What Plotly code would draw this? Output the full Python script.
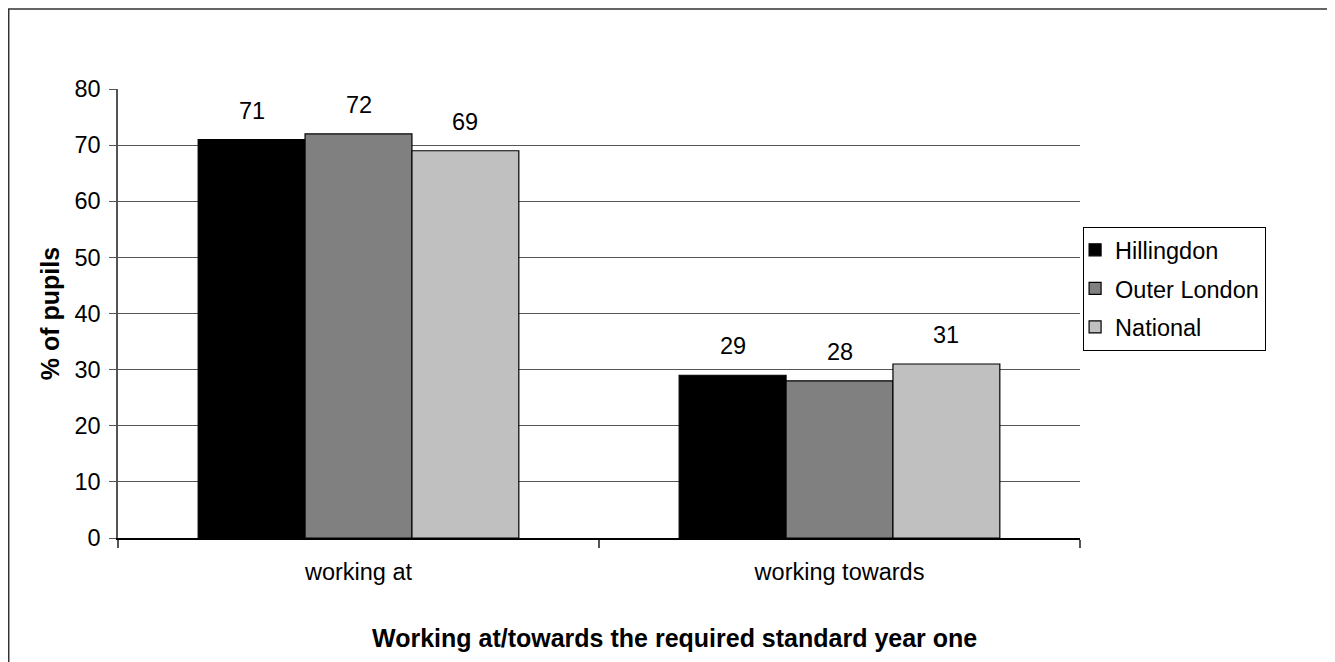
import plotly.graph_objects as go

categories = ["working at", "working towards"]
series_names = ["Hillingdon", "Outer London", "National"]
hillingdon = [71, 29]
outer_london = [72, 28]
national = [69, 31]
series_values = [hillingdon, outer_london, national]
series_colors = ["#000000", "#808080", "#C0C0C0"]
y_ticks = [0, 10, 20, 30, 40, 50, 60, 70, 80]
y_title = "% of pupils"
x_title = "Working at/towards the required standard year one"

FONT = "Liberation Sans, Arial, sans-serif"
REG = 23.5
BOLD = 25
BARGAP = 1 / 3

fig = go.Figure()
for name, vals, col in zip(series_names, series_values, series_colors):
    fig.add_trace(go.Bar(
        x=categories, y=vals, name=name, legendgroup=name,
        marker=dict(color=col, line=dict(color="#000000", width=1.2)),
    ))

# data labels above bars
nser = len(series_names)
w = (1 - BARGAP) / nser
for j, vals in enumerate(series_values):
    for i, v in enumerate(vals):
        fig.add_annotation(
            x=i + (j - (nser - 1) / 2) * w, y=v, text=str(v),
            showarrow=False, yanchor="bottom", yshift=14,
            font=dict(family=FONT, size=REG, color="#000000"),
        )

# x-axis title (centred on the chart area)
fig.add_annotation(
    x=0.579, y=-0.222, xref="paper", yref="paper", text="<b>%s</b>" % x_title,
    showarrow=False, xanchor="center", yanchor="middle",
    font=dict(family=FONT, size=BOLD, color="#000000"),
)

# outer chart frame
fig.add_shape(type="rect", xref="paper", yref="paper",
              x0=-0.1136, x1=1.30, y0=-0.35, y1=1.178,
              line=dict(color="#333333", width=1.5), layer="below")

fig.update_layout(
    width=1335, height=662,
    margin=dict(l=110, r=263, t=81, b=132),
    paper_bgcolor="#FFFFFF", plot_bgcolor="#FFFFFF",
    barmode="group", bargap=BARGAP, bargroupgap=0,
    font=dict(family=FONT, size=REG, color="#000000"),
    showlegend=True,
    legend=dict(
        x=1.003, y=0.693, xanchor="left", yanchor="top",
        bordercolor="#000000", borderwidth=1.2, bgcolor="#FFFFFF",
        font=dict(family=FONT, size=REG, color="#000000"),
        tracegroupgap=5, indentation=-9, traceorder="grouped",
    ),
    xaxis=dict(
        type="category", showline=True, linecolor="#000000", linewidth=1.5,
        ticks="outside", tickson="boundaries", ticklen=8, tickcolor="#555555",
        tickwidth=1.5, showgrid=False, ticklabelstandoff=12,
        tickfont=dict(family=FONT, size=REG),
        range=[-0.5, 1.5],
    ),
    yaxis=dict(
        range=[0, 80], tickvals=y_ticks, showline=True, linecolor="#555555",
        linewidth=1.5, ticks="outside", ticklen=7, tickcolor="#555555",
        showgrid=True, gridcolor="#555555", gridwidth=1, zeroline=False,
        tickfont=dict(family=FONT, size=REG), ticklabelstandoff=4,
        title=dict(text="<b>%s</b>" % y_title, standoff=8,
                   font=dict(family=FONT, size=BOLD)),
    ),
)

fig.write_html("out.html")
